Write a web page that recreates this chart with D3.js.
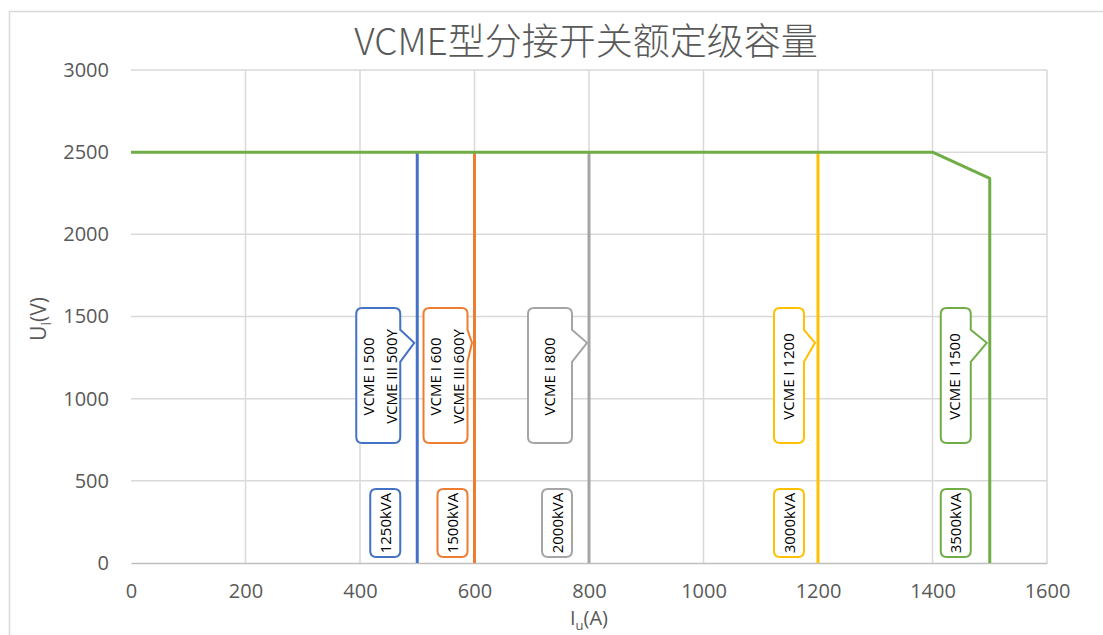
<!DOCTYPE html>
<html>
<head>
<meta charset="utf-8">
<script src="https://cdn.jsdelivr.net/npm/d3@7"></script>
<style>
  body { margin: 0; background: #fff; }
  text { font-family: "Open Sans", "Noto Sans", "Noto Sans CJK SC", sans-serif; }
</style>
</head>
<body>
<div id="chart"></div>
<script>
var width = 1103;
var height = 635;

// data
var ratedI   = [500, 600, 800, 1200, 1500];          // rated current per type (A)
var ratedU   = [2500, 2500, 2500, 2500, 2340];       // top of each vertical line (V)
var typeNames = [["VCME I 500", "VCME III 500Y"],
                 ["VCME I 600", "VCME III 600Y"],
                 ["VCME I 800"],
                 ["VCME I 1200"],
                 ["VCME I 1500"]];
var capacity = ["1250kVA", "1500kVA", "2000kVA", "3000kVA", "3500kVA"];
var limitI = [0, 1400, 1500, 1500];                  // green envelope
var limitU = [2500, 2500, 2340, 0];
var xTicks = [0, 200, 400, 600, 800, 1000, 1200, 1400, 1600];
var yTicks = [0, 500, 1000, 1500, 2000, 2500, 3000];
var labelU = 1340;                                   // where the callout pointers aim

// style / layout
var colors = ["#4472C4", "#ED7D31", "#A5A5A5", "#FFC000", "#70AD47"];
var boxGap = [17, 7, 17, 14, 19];   // px between box right edge and line
var boxW   = [44, 44, 44, 30, 30];
var tipGap = [3, 2.5, 2, 3, 3];     // px between pointer tip and line
var textCol = "#595959";
var sans = "'Open Sans', 'Noto Sans', sans-serif";

var svg = d3.select("#chart").append("svg")
  .attr("width", width).attr("height", height);

// chart border
svg.append("rect")
  .attr("x", 9.5).attr("y", 11.5).attr("width", 1300).attr("height", 800)
  .attr("fill", "none").attr("stroke", "#d9d9d9").attr("stroke-width", 1.5);

var x = d3.scaleLinear().domain([0, 1600]).range([131, 1047]);
var y = d3.scaleLinear().domain([0, 3000]).range([563, 70]);

// gridlines
svg.append("g").selectAll("line").data(xTicks.slice(1)).join("line")
  .attr("x1", d => x(d)).attr("x2", d => x(d))
  .attr("y1", y(0)).attr("y2", y(3000))
  .attr("stroke", "#d9d9d9").attr("stroke-width", 1.5);
svg.append("g").selectAll("line").data(yTicks.slice(1)).join("line")
  .attr("x1", x(0)).attr("x2", x(1600))
  .attr("y1", d => y(d)).attr("y2", d => y(d))
  .attr("stroke", "#d9d9d9").attr("stroke-width", 1.5);

// axes
var xAxis = svg.append("g").attr("transform", "translate(0," + y(0) + ")")
  .call(d3.axisBottom(x).tickValues(xTicks).tickFormat(d3.format("d")).tickSize(0).tickPadding(21));
xAxis.select(".domain").attr("stroke", "#bfbfbf").attr("stroke-width", 1.5);
var yAxis = svg.append("g").attr("transform", "translate(" + x(0) + ",0)")
  .call(d3.axisLeft(y).tickValues(yTicks).tickFormat(d3.format("d")).tickSize(0).tickPadding(22));
yAxis.select(".domain").remove();
svg.selectAll(".tick text")
  .attr("fill", textCol).style("font-size", "20px").style("font-family", sans);

// title
svg.append("text")
  .attr("x", 586).attr("y", 55).attr("text-anchor", "middle")
  .attr("fill", textCol).style("font-size", "37px").style("font-weight", 300)
  .style("font-family", "'Noto Sans CJK SC', sans-serif")
  .text("VCME型分接开关额定级容量");

// axis titles
var xt = svg.append("text").attr("x", 589).attr("y", 625).attr("text-anchor", "middle")
  .attr("fill", textCol).style("font-size", "20px").style("font-family", sans);
xt.append("tspan").text("I");
xt.append("tspan").attr("dy", 5).style("font-size", "13px").text("u");
xt.append("tspan").attr("dy", -5).text("(A)");

var yt = svg.append("text").attr("transform", "translate(46,319) rotate(-90)")
  .attr("text-anchor", "middle").attr("fill", textCol)
  .style("font-size", "21px").style("font-family", sans);
yt.append("tspan").text("U");
yt.append("tspan").attr("dy", 5).style("font-size", "14px").text("i");
yt.append("tspan").attr("dy", -5).text("(V)");

// vertical rating lines (1500 is part of the envelope)
svg.append("g").selectAll("line").data(ratedI.slice(0, 4)).join("line")
  .attr("x1", d => x(d)).attr("x2", d => x(d))
  .attr("y1", y(0)).attr("y2", (d, i) => y(ratedU[i]))
  .attr("stroke", (d, i) => colors[i]).attr("stroke-width", 3);

// green envelope
var env = limitI.map((d, i) => [d, limitU[i]]);
svg.append("path").datum(env)
  .attr("d", d3.line().x(d => x(d[0])).y(d => y(d[1])))
  .attr("fill", "none").attr("stroke", colors[4]).attr("stroke-width", 3)
  .attr("stroke-linejoin", "round");

// callout path with pointer on the right side
function calloutPath(l, t, r, b, tipX, tipY, pt, pb) {
  var c = 6;
  return "M" + (l + c) + "," + t +
    "H" + (r - c) + "Q" + r + "," + t + " " + r + "," + (t + c) +
    "V" + pt + "L" + tipX + "," + tipY + "L" + r + "," + pb +
    "V" + (b - c) + "Q" + r + "," + b + " " + (r - c) + "," + b +
    "H" + (l + c) + "Q" + l + "," + b + " " + l + "," + (b - c) +
    "V" + (t + c) + "Q" + l + "," + t + " " + (l + c) + "," + t + "Z";
}
function roundBox(l, t, r, b) {
  return calloutPath(l, t, r, b, r, (t + b) / 2, (t + b) / 2, (t + b) / 2);
}

ratedI.forEach(function(I, i) {
  var lx = x(I);
  var r = lx - boxGap[i];
  var lines = typeNames[i];
  var l = r - boxW[i];
  var t = 308, b = 443;
  var tipY = y(labelU);
  var g = svg.append("g");
  g.append("path")
    .attr("d", calloutPath(l, t, r, b, lx - tipGap[i], tipY, tipY - 13, tipY + 19))
    .attr("fill", "#fff").attr("stroke", colors[i]).attr("stroke-width", 2);
  lines.forEach(function(s, k) {
    var cx = lines.length === 2 ? l + 12 + k * 23 : (l + r) / 2 - 1;
    g.append("text")
      .attr("transform", "translate(" + (cx + 5.5) + "," + ((t + b) / 2 + 1) + ") rotate(-90)")
      .attr("text-anchor", "middle").attr("fill", "#000")
      .style("font-size", "15px").style("font-family", sans)
      .text(s);
  });
  // capacity label
  var kl = r - 30, kt = 489, kb = 557;
  g.append("path").attr("d", roundBox(kl, kt, r, kb))
    .attr("fill", "#fff").attr("stroke", colors[i]).attr("stroke-width", 2);
  g.append("text")
    .attr("transform", "translate(" + ((kl + r) / 2 + 5.5) + "," + ((kt + kb) / 2) + ") rotate(-90)")
    .attr("text-anchor", "middle").attr("fill", "#000")
    .style("font-size", "15px").style("font-family", sans)
    .text(capacity[i]);
});
</script>
</body>
</html>
